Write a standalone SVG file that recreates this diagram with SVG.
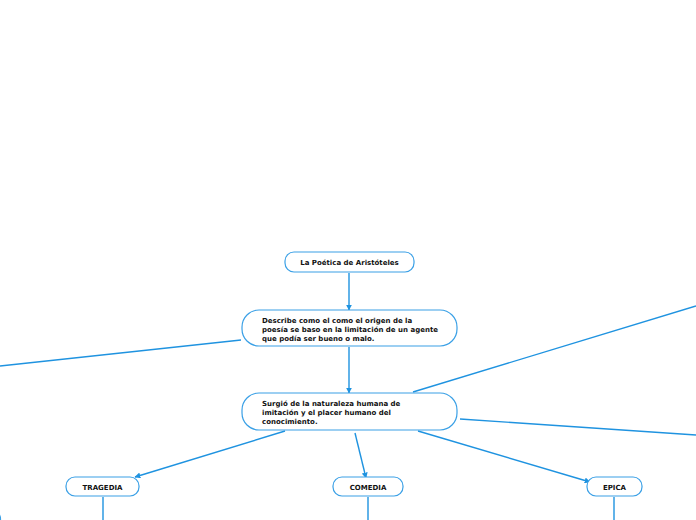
<svg xmlns="http://www.w3.org/2000/svg" width="696" height="520" viewBox="0 0 696 520">
<style>
.n{fill:#fff;stroke:#3aa0e6;stroke-width:1.2}
.c{fill:none;stroke:#1f93e0;stroke-width:1.4}
.t{font-family:"DejaVu Sans",Verdana,sans-serif;font-weight:bold;font-size:7px;fill:#111}
</style>
<defs>
<marker id="a" viewBox="0 0 10 10" refX="9" refY="5" markerWidth="6" markerHeight="6" orient="auto" markerUnits="userSpaceOnUse">
<path d="M0,0 L10,5 L0,10 z" fill="#1f93e0"/>
</marker>
</defs>
<g id="connectors">
<line class="c" x1="349" y1="273" x2="349" y2="310" marker-end="url(#a)"/>
<line class="c" x1="349" y1="347" x2="349" y2="393" marker-end="url(#a)"/>
<line class="c" x1="241" y1="340" x2="0" y2="366"/>
<line class="c" x1="413" y1="392" x2="696" y2="306"/>
<line class="c" x1="460" y1="419" x2="696" y2="435"/>
<line class="c" x1="285" y1="431" x2="135" y2="477" marker-end="url(#a)"/>
<line class="c" x1="355" y1="433" x2="366" y2="478" marker-end="url(#a)"/>
<line class="c" x1="418" y1="431" x2="590" y2="482" marker-end="url(#a)"/>
<line class="c" x1="103" y1="497" x2="103" y2="520"/>
<line class="c" x1="368" y1="497" x2="368" y2="520"/>
<line class="c" x1="614" y1="497" x2="614" y2="520"/>
</g>
<g id="n1"><rect class="n" x="285" y="252" width="129" height="20" rx="9"/><text class="t" x="349.5" y="265" text-anchor="middle">La Poética de Aristóteles</text></g>
<g id="n2"><rect class="n" x="242" y="310" width="215" height="36" rx="17"/>
<text class="t" x="262" y="323">Describe como el como el origen de la</text>
<text class="t" x="262" y="332">poesía se baso en la limitación de un agente</text>
<text class="t" x="262" y="341">que podía ser bueno o malo.</text></g>
<g id="n3"><rect class="n" x="242" y="393" width="215" height="37" rx="17"/>
<text class="t" x="262" y="406">Surgió de la naturaleza humana de</text>
<text class="t" x="262" y="415">imitación y el placer humano del</text>
<text class="t" x="262" y="424">conocimiento.</text></g>
<g id="n4"><rect class="n" x="66" y="477" width="73" height="19" rx="9"/><text class="t" x="102.5" y="489.5" text-anchor="middle">TRAGEDIA</text></g>
<g id="n5"><rect class="n" x="333" y="477" width="70" height="19" rx="9"/><text class="t" x="368" y="489.5" text-anchor="middle">COMEDIA</text></g>
<g id="n6"><rect class="n" x="587" y="477" width="55" height="19" rx="9"/><text class="t" x="614.5" y="489.5" text-anchor="middle">EPICA</text></g>
<g id="n7"><path class="n" d="M-20,510 L-9,510 A9,9 0 0 1 0.5,519 L0.5,530" fill="none"/></g>
</svg>
